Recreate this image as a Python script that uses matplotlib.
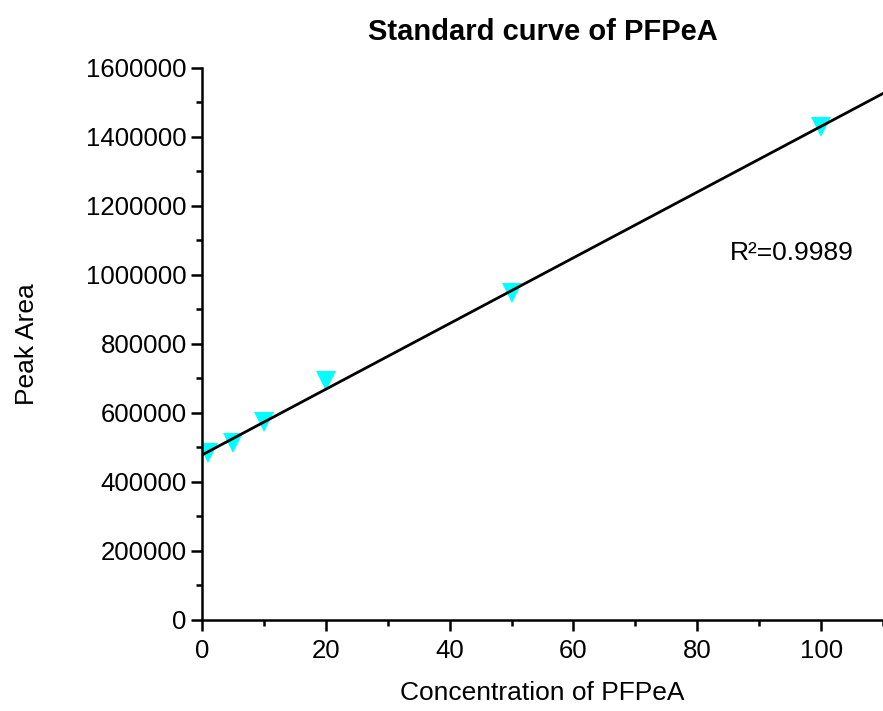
import numpy as np
import matplotlib
matplotlib.use("Agg")
import matplotlib.pyplot as plt
from matplotlib.ticker import MultipleLocator, FuncFormatter

# === DATA ===
conc = [1, 5, 10, 20, 50, 100]
peak_area = [484000, 513000, 574000, 693000, 948000, 1430000]
r2_text = "R\u00b2=0.9989"

plt.rcParams['font.family'] = ['Liberation Sans', 'DejaVu Sans']

fig = plt.figure(figsize=(8.83, 7.11), dpi=100)
ax = fig.add_axes([0.2288, 0.128, 0.7712, 0.7764])

# linear fit of the standard points
slope, intercept = np.polyfit(conc, peak_area, 1)
xs = np.array([0, 110])

ax.plot(conc, peak_area, linestyle='none', marker='v', markersize=14,
        color='#00FFFF', markeredgewidth=0, zorder=2)
ax.plot(xs, slope * xs + intercept, color='black', lw=2, zorder=3)

ax.set_xlim(0, 110)
ax.set_ylim(0, 1600000)
ax.xaxis.set_major_locator(MultipleLocator(20))
ax.xaxis.set_minor_locator(MultipleLocator(10))
ax.yaxis.set_major_locator(MultipleLocator(200000))
ax.yaxis.set_minor_locator(MultipleLocator(100000))
ax.yaxis.set_major_formatter(FuncFormatter(lambda v, p: f"{int(v)}"))

for side in ['top', 'right']:
    ax.spines[side].set_visible(False)
for side in ['left', 'bottom']:
    ax.spines[side].set_linewidth(1.8)

ax.tick_params(which='major', length=8, width=1.8, labelsize=18.5, pad=3)
ax.tick_params(which='minor', length=4, width=1.8)
ax.tick_params(axis='x', which='major', pad=6)

ax.text(85.2, 1064000, r2_text, fontsize=19, ha='left', va='center')

ax.set_xlabel('Concentration of PFPeA', fontsize=19, labelpad=13)
ax.set_ylabel('Peak Area', fontsize=19, labelpad=34)
ax.set_title('Standard curve of PFPeA', fontsize=21, fontweight='bold', pad=20)

fig.savefig('out.png', dpi=100)
